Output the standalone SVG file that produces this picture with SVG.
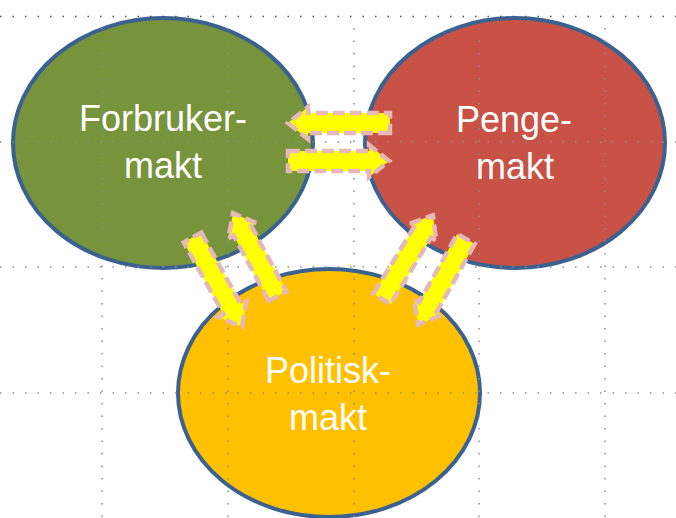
<svg xmlns="http://www.w3.org/2000/svg" width="676" height="518" viewBox="0 0 676 518">
<defs>
<style>
.node{stroke:#3a6190;stroke-width:4}
.lbl{font-family:"Liberation Sans",Arial,sans-serif;font-size:36px;fill:#ffffff;text-anchor:middle}
.grid{stroke:#8c8c8c;stroke-width:1.5;stroke-dasharray:1.5 11;fill:none}
.arr{fill:#ffff00;stroke:#e6b9b8;stroke-width:4.5;stroke-dasharray:12 5;stroke-linejoin:miter}
</style>
</defs>
<rect width="676" height="518" fill="#ffffff"/>
<g id="node-forbruker">
<ellipse class="node" cx="163" cy="143" rx="150" ry="125" fill="#77933c"/>
</g>
<g id="node-penge">
<ellipse class="node" cx="515" cy="143" rx="150" ry="125" fill="#c85245"/>
</g>
<g id="node-politisk">
<ellipse class="node" cx="329" cy="393" rx="151" ry="124" fill="#ffc000"/>
</g>
<g id="grid">
<line class="grid" x1="0" y1="16.5" x2="676" y2="16.5" style="stroke:#555"/>
<line class="grid" x1="0" y1="142" x2="676" y2="142"/>
<line class="grid" x1="0" y1="267" x2="676" y2="267"/>
<line class="grid" x1="0" y1="393" x2="676" y2="393"/>
<line class="grid" x1="102" y1="28" x2="102" y2="518"/>
<line class="grid" x1="228" y1="28" x2="228" y2="518"/>
<line class="grid" x1="354" y1="28" x2="354" y2="518"/>
<line class="grid" x1="479" y1="28" x2="479" y2="518"/>
<line class="grid" x1="605" y1="28" x2="605" y2="518"/>
</g>
<g id="labels">
<text class="lbl" x="163" y="131">Forbruker-</text>
<text class="lbl" x="163" y="178">makt</text>
<text class="lbl" x="514" y="132">Penge-</text>
<text class="lbl" x="515" y="179">makt</text>
<text class="lbl" x="328" y="383">Politisk-</text>
<text class="lbl" x="328" y="430">makt</text>
</g>
<g id="connectors">
<path class="arr" transform="translate(390,123) rotate(180)" d="M0,-10 L82,-10 L82,-16 L102,0 L82,16 L82,10 L0,10 Z"/>
<path class="arr" transform="translate(288,161)" d="M0,-10 L81,-10 L81,-16 L101,0 L81,16 L81,10 L0,10 Z"/>
<path class="arr" transform="translate(192.5,237.5) rotate(61)" d="M0,-10 L82,-10 L82,-16 L102,0 L82,16 L82,10 L0,10 Z"/>
<path class="arr" transform="translate(277.5,296) rotate(-118.2)" d="M0,-10 L74,-10 L74,-16 L94,0 L74,16 L74,10 L0,10 Z"/>
<path class="arr" transform="translate(382,299) rotate(-58.7)" d="M0,-10 L78,-10 L78,-16 L98,0 L78,16 L78,10 L0,10 Z"/>
<path class="arr" transform="translate(466,239) rotate(119.2)" d="M0,-10 L78,-10 L78,-16 L98,0 L78,16 L78,10 L0,10 Z"/>
</g>
</svg>
